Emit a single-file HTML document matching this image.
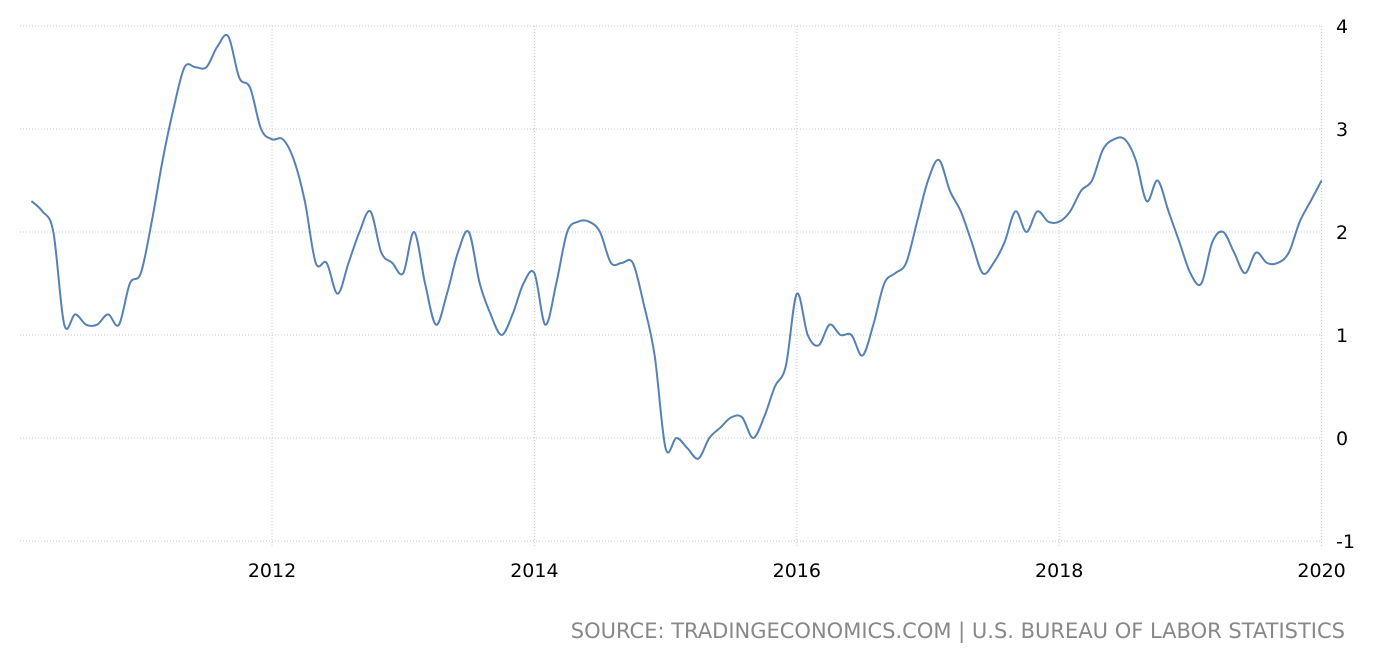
<!DOCTYPE html>
<html><head><meta charset="utf-8"><style>
body{margin:0;background:#fff;}
svg{display:block;font-family:"DejaVu Sans","Liberation Sans",sans-serif;}
</style></head><body>
<svg id="chart" width="1380" height="652">
<g id="grid"></g>
<g id="axes"></g>
<path id="line" fill="none" stroke="#5581b3" stroke-width="2"/>
<text x="1345" y="638" text-anchor="end" font-size="21" fill="#888">SOURCE: TRADINGECONOMICS.COM | U.S. BUREAU OF LABOR STATISTICS</text>
</svg>
<script>
const startYear = 2010, startMonth = 2; // March 2010 (0-based month)
const values = [2.3,2.2,2.0,1.1,1.2,1.1,1.1,1.2,1.1,1.5,
1.6,2.1,2.7,3.2,3.6,3.6,3.6,3.8,3.9,3.5,3.4,3.0,
2.9,2.9,2.7,2.3,1.7,1.7,1.4,1.7,2.0,2.2,1.8,1.7,
1.6,2.0,1.5,1.1,1.4,1.8,2.0,1.5,1.2,1.0,1.2,1.5,
1.6,1.1,1.5,2.0,2.1,2.1,2.0,1.7,1.7,1.7,1.3,0.8,
-0.1,0.0,-0.1,-0.2,0.0,0.1,0.2,0.2,0.0,0.2,0.5,0.7,
1.4,1.0,0.9,1.1,1.0,1.0,0.8,1.1,1.5,1.6,1.7,2.1,
2.5,2.7,2.4,2.2,1.9,1.6,1.7,1.9,2.2,2.0,2.2,2.1,
2.1,2.2,2.4,2.5,2.8,2.9,2.9,2.7,2.3,2.5,2.2,1.9,
1.6,1.5,1.9,2.0,1.8,1.6,1.8,1.7,1.7,1.8,2.1,2.3,
2.5];
const yTicks = [4,3,2,1,0,-1];
const xTicks = [2012,2014,2016,2018,2020];
const NS="http://www.w3.org/2000/svg";
function x(t){return 272+(t-2012)*131.2;}
function y(v){return 438-v*103;}
const grid=document.getElementById('grid'), axes=document.getElementById('axes');
yTicks.forEach(v=>{
  const l=document.createElementNS(NS,'line');
  
  
  l.setAttribute('x1',20);l.setAttribute('x2',1321);l.setAttribute('y1',y(v));l.setAttribute('y2',y(v));
  l.setAttribute('stroke','#c8c8c8');l.setAttribute('stroke-dasharray','1,2');
  grid.appendChild(l);
  const t=document.createElementNS(NS,'text');
  
  
  t.setAttribute('x',1336);t.setAttribute('y',y(v)+7);t.setAttribute('font-size','19');
  t.textContent=v;axes.appendChild(t);
});
xTicks.forEach(yr=>{
  const l=document.createElementNS(NS,'line');
  
  
  l.setAttribute('x1',x(yr));l.setAttribute('x2',x(yr));l.setAttribute('y1',26);l.setAttribute('y2',548);
  l.setAttribute('stroke','#c8c8c8');l.setAttribute('stroke-dasharray','1,2');
  grid.appendChild(l);
  const t=document.createElementNS(NS,'text');
  
  
  t.setAttribute('x',x(yr));t.setAttribute('y',577);t.setAttribute('font-size','19');t.setAttribute('text-anchor','middle');
  t.textContent=yr;axes.appendChild(t);
});
const pts=values.map((v,i)=>[x(startYear+(startMonth+i)/12),y(v)]);
let d='M'+pts[0][0]+','+pts[0][1];
for(let i=0;i<pts.length-1;i++){
  const p0=pts[Math.max(i-1,0)],p1=pts[i],p2=pts[i+1],p3=pts[Math.min(i+2,pts.length-1)];
  const c1=[p1[0]+(p2[0]-p0[0])/6,p1[1]+(p2[1]-p0[1])/6];
  const c2=[p2[0]-(p3[0]-p1[0])/6,p2[1]-(p3[1]-p1[1])/6];
  d+=` C${c1[0]},${c1[1]} ${c2[0]},${c2[1]} ${p2[0]},${p2[1]}`;
}
document.getElementById('line').setAttribute('d',d);
</script>
</body></html>
